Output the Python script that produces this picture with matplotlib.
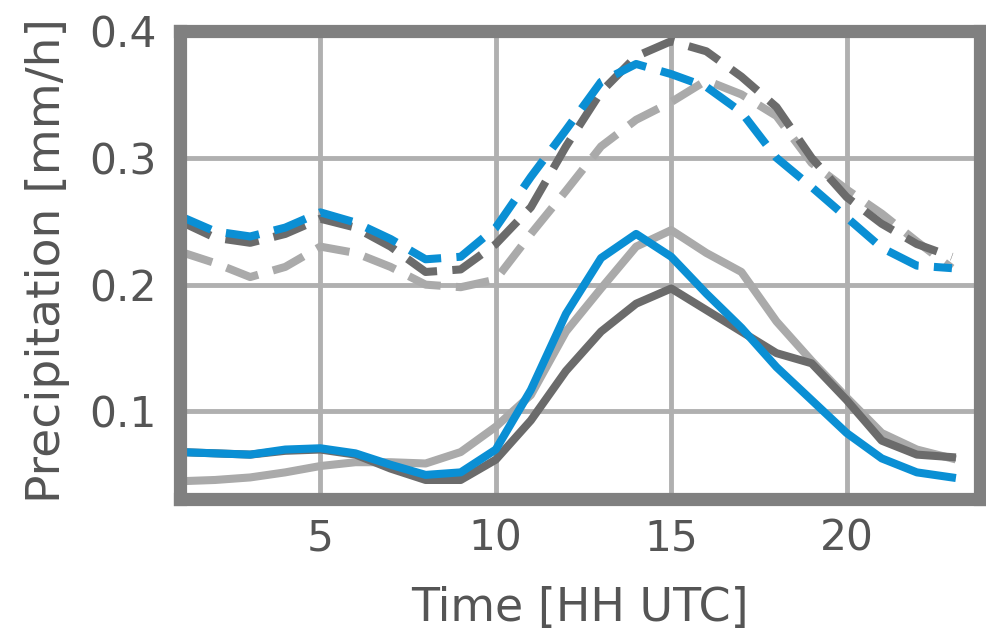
import matplotlib
matplotlib.use("Agg")
import matplotlib.pyplot as plt

hours = list(range(1, 24))

blue_solid = [0.068, 0.067, 0.066, 0.070, 0.071, 0.067, 0.058, 0.050, 0.052, 0.070,
              0.117, 0.177, 0.221, 0.240, 0.222, 0.193, 0.166, 0.135, 0.109, 0.083,
              0.063, 0.052, 0.048]
dark_solid = [0.068, 0.067, 0.066, 0.069, 0.070, 0.066, 0.055, 0.046, 0.046, 0.062,
              0.093, 0.132, 0.163, 0.185, 0.197, 0.180, 0.163, 0.146, 0.138, 0.109,
              0.077, 0.066, 0.064]
light_solid = [0.045, 0.046, 0.048, 0.052, 0.057, 0.060, 0.060, 0.059, 0.068, 0.088,
               0.113, 0.163, 0.197, 0.230, 0.243, 0.225, 0.210, 0.171, 0.140, 0.111,
               0.083, 0.070, 0.063]

blue_dashed = [0.254, 0.242, 0.238, 0.245, 0.257, 0.249, 0.236, 0.220, 0.222, 0.245,
               0.285, 0.322, 0.360, 0.374, 0.366, 0.356, 0.336, 0.300, 0.277, 0.253,
               0.229, 0.215, 0.213]
dark_dashed = [0.250, 0.237, 0.233, 0.240, 0.252, 0.245, 0.230, 0.210, 0.212, 0.232,
               0.261, 0.309, 0.352, 0.380, 0.392, 0.384, 0.364, 0.340, 0.300, 0.269,
               0.248, 0.232, 0.222]
light_dashed = [0.226, 0.217, 0.206, 0.214, 0.230, 0.225, 0.214, 0.200, 0.198, 0.204,
                0.240, 0.274, 0.309, 0.330, 0.344, 0.361, 0.350, 0.333, 0.296, 0.275,
                0.256, 0.234, 0.213]

x_ticks = [5, 10, 15, 20]
y_ticks = [0.1, 0.2, 0.3, 0.4]
y_ticklabels = ["0.1", "0.2", "0.3", "0.4"]

BLUE = "#0a8fd4"
DARK = "#6b6b6b"
LIGHT = "#aaaaaa"
TEXT = "#555555"

fig = plt.figure(figsize=(9.86, 6.34), dpi=100)
ax = fig.add_axes([180 / 986, 1 - 499 / 634, 800 / 986, (499 - 31) / 634])

lw = 5.8
dash = (4.2, 1.9)
ax.plot(hours, light_dashed, color=LIGHT, lw=lw, dashes=dash, zorder=3)
ax.plot(hours, dark_dashed, color=DARK, lw=lw, dashes=dash, zorder=4)
ax.plot(hours, blue_dashed, color=BLUE, lw=lw, dashes=dash, zorder=5)
ax.plot(hours, light_solid, color=LIGHT, lw=lw, zorder=3)
ax.plot(hours, dark_solid, color=DARK, lw=lw, zorder=4)
ax.plot(hours, blue_solid, color=BLUE, lw=lw, zorder=5)

ax.set_xlim(1, 23.8)
ax.set_ylim(0.031, 0.4)
ax.set_xticks(x_ticks)
ax.set_yticks(y_ticks)
ax.set_yticklabels(y_ticklabels)
ax.grid(True, color="#b0b0b0", lw=3.5, zorder=1)
ax.set_axisbelow(True)

for s in ax.spines.values():
    s.set_color("#808080")
    s.set_linewidth(9.5)
    s.set_zorder(10)

ax.tick_params(axis="both", length=0, labelsize=30.5, labelcolor=TEXT)
ax.tick_params(axis="y", pad=17)
ax.tick_params(axis="x", pad=13)

ax.set_xlabel("Time [HH UTC]", fontsize=33, color=TEXT)
ax.set_ylabel("Precipitation [mm/h]", fontsize=34, color=TEXT)
ax.yaxis.set_label_coords(-0.138, 0.51)
ax.xaxis.set_label_coords(0.5, -0.186)

fig.savefig("out.png", dpi=100)
